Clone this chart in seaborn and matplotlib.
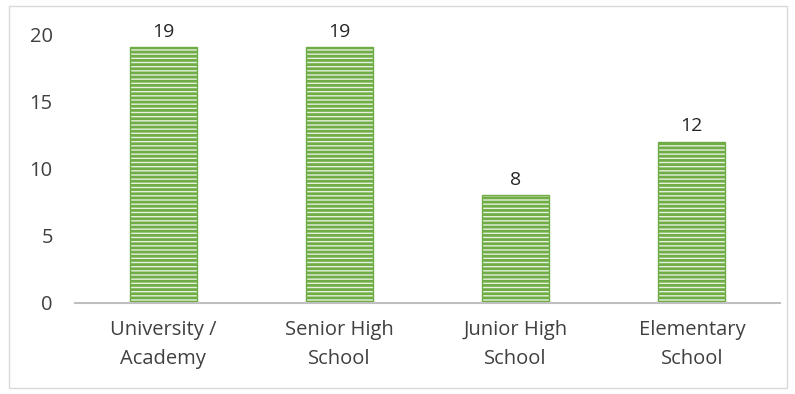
import matplotlib
matplotlib.use("Agg")
import matplotlib.pyplot as plt
import seaborn as sns
import pandas as pd
from matplotlib.patches import Rectangle

categories = ["University /\nAcademy", "Senior High\nSchool", "Junior High\nSchool", "Elementary\nSchool"]
values = [19, 19, 8, 12]
yticks = [0, 5, 10, 15, 20]

sns.set_theme(style="white")
plt.rcParams['font.family'] = ['Open Sans', 'DejaVu Sans']
plt.rcParams['hatch.linewidth'] = 2.0
plt.rcParams['hatch.color'] = '#70ad47'

df = pd.DataFrame({"cat": categories, "val": values})

fig = plt.figure(figsize=(7.95, 3.94), dpi=100)
ax = fig.add_axes([75/795, 1-303/394, (780-75)/795, (303-34)/394])

sns.barplot(data=df, x="cat", y="val", ax=ax, color="#e6f2dc", width=0.38,
            edgecolor="#70ad47", linewidth=1.0, saturation=1)

for p in ax.patches:
    p.set_hatch('----')
    p.set_edgecolor('#70ad47')

for i, v in enumerate(values):
    ax.text(i, v + 0.5, str(v), ha='center', va='bottom', fontsize=14, color='#262626')

ax.set_xlim(-0.5, 3.5)
ax.set_ylim(0, 20)
ax.set_yticks(yticks)
ax.set_xlabel("")
ax.set_ylabel("")
ax.tick_params(axis='both', length=0, labelsize=14.5, colors='#404040')
ax.tick_params(axis='y', pad=16)
ax.tick_params(axis='x', pad=12)
for lab in ax.get_xticklabels():
    lab.set_linespacing(1.6)
for s in ['top', 'right', 'left']:
    ax.spines[s].set_visible(False)
ax.spines['bottom'].set_color('#bfbfbf')
ax.spines['bottom'].set_linewidth(1.5)

fig.patches.append(Rectangle((9/795, 1-388/394), (787-9)/795, (388-6)/394,
                             transform=fig.transFigure, fill=False,
                             edgecolor='#d9d9d9', linewidth=1.0))

fig.savefig("out.png", dpi=100)
